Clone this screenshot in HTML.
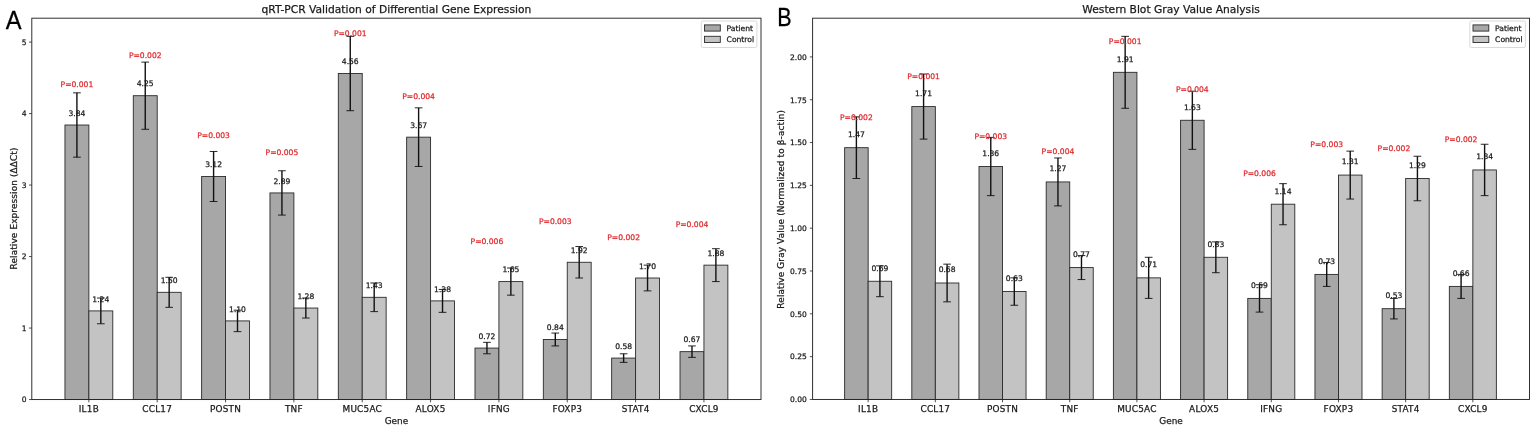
<!DOCTYPE html>
<html lang="en"><head><meta charset="utf-8"><title>Gene expression charts</title>
<style>
html,body{margin:0;padding:0;background:#fff;}
body{width:1535px;height:429px;overflow:hidden;}
svg{display:block;}
text{font-family:"DejaVu Sans","Liberation Sans",sans-serif;fill:#1a1a1a;stroke:#1a1a1a;stroke-width:0.25px;}
.t{font-size:8.9px;}
.s{font-size:7.6px;}
.yt{font-size:7.55px;}
.xt{letter-spacing:0.22px;}
.yl{letter-spacing:0.17px;}
.r{fill:#e0282c;stroke:#e0282c;}
.ti{font-size:10.7px;}
.L{font-size:24.5px;font-family:"Liberation Sans","DejaVu Sans",sans-serif;fill:#000;stroke:#000;stroke-width:0.3px;}
</style></head><body>
<svg width="1535" height="429" viewBox="0 0 1535 429">
<rect width="1535" height="429" fill="#fff"/>
<g>
<rect x="64.95" y="125.01" width="23.92" height="274.54" fill="#a7a7a7" stroke="#2a2a2a" stroke-width="0.9"/>
<rect x="88.86" y="310.9" width="23.92" height="88.65" fill="#c3c3c3" stroke="#2a2a2a" stroke-width="0.9"/>
<rect x="133.29" y="95.7" width="23.92" height="303.85" fill="#a7a7a7" stroke="#2a2a2a" stroke-width="0.9"/>
<rect x="157.21" y="292.31" width="23.92" height="107.24" fill="#c3c3c3" stroke="#2a2a2a" stroke-width="0.9"/>
<rect x="201.63" y="176.49" width="23.92" height="223.06" fill="#a7a7a7" stroke="#2a2a2a" stroke-width="0.9"/>
<rect x="225.55" y="320.91" width="23.92" height="78.64" fill="#c3c3c3" stroke="#2a2a2a" stroke-width="0.9"/>
<rect x="269.97" y="192.93" width="23.92" height="206.62" fill="#a7a7a7" stroke="#2a2a2a" stroke-width="0.9"/>
<rect x="293.89" y="308.04" width="23.92" height="91.51" fill="#c3c3c3" stroke="#2a2a2a" stroke-width="0.9"/>
<rect x="338.31" y="73.54" width="23.92" height="326.01" fill="#a7a7a7" stroke="#2a2a2a" stroke-width="0.9"/>
<rect x="362.23" y="297.31" width="23.92" height="102.24" fill="#c3c3c3" stroke="#2a2a2a" stroke-width="0.9"/>
<rect x="406.65" y="137.17" width="23.92" height="262.38" fill="#a7a7a7" stroke="#2a2a2a" stroke-width="0.9"/>
<rect x="430.57" y="300.89" width="23.92" height="98.66" fill="#c3c3c3" stroke="#2a2a2a" stroke-width="0.9"/>
<rect x="474.99" y="348.07" width="23.92" height="51.48" fill="#a7a7a7" stroke="#2a2a2a" stroke-width="0.9"/>
<rect x="498.91" y="281.58" width="23.92" height="117.97" fill="#c3c3c3" stroke="#2a2a2a" stroke-width="0.9"/>
<rect x="543.33" y="339.49" width="23.92" height="60.06" fill="#a7a7a7" stroke="#2a2a2a" stroke-width="0.9"/>
<rect x="567.25" y="262.28" width="23.92" height="137.27" fill="#c3c3c3" stroke="#2a2a2a" stroke-width="0.9"/>
<rect x="611.67" y="358.08" width="23.92" height="41.47" fill="#a7a7a7" stroke="#2a2a2a" stroke-width="0.9"/>
<rect x="635.59" y="278.01" width="23.92" height="121.54" fill="#c3c3c3" stroke="#2a2a2a" stroke-width="0.9"/>
<rect x="680.02" y="351.65" width="23.92" height="47.9" fill="#a7a7a7" stroke="#2a2a2a" stroke-width="0.9"/>
<rect x="703.94" y="265.14" width="23.92" height="134.41" fill="#c3c3c3" stroke="#2a2a2a" stroke-width="0.9"/>
<path d="M76.91 157.18V92.84" stroke="#111" stroke-width="1.4" fill="none"/>
<path d="M73.06 92.84h7.7M73.06 157.18h7.7" stroke="#111" stroke-width="0.9" fill="none"/>
<path d="M100.82 323.77V298.03" stroke="#111" stroke-width="1.4" fill="none"/>
<path d="M96.97 298.03h7.7M96.97 323.77h7.7" stroke="#111" stroke-width="0.9" fill="none"/>
<path d="M145.25 129.3V62.1" stroke="#111" stroke-width="1.4" fill="none"/>
<path d="M141.4 62.1h7.7M141.4 129.3h7.7" stroke="#111" stroke-width="0.9" fill="none"/>
<path d="M169.17 307.32V277.29" stroke="#111" stroke-width="1.4" fill="none"/>
<path d="M165.32 277.29h7.7M165.32 307.32h7.7" stroke="#111" stroke-width="0.9" fill="none"/>
<path d="M213.59 201.51V151.47" stroke="#111" stroke-width="1.4" fill="none"/>
<path d="M209.74 151.47h7.7M209.74 201.51h7.7" stroke="#111" stroke-width="0.9" fill="none"/>
<path d="M237.51 331.63V310.18" stroke="#111" stroke-width="1.4" fill="none"/>
<path d="M233.66 310.18h7.7M233.66 331.63h7.7" stroke="#111" stroke-width="0.9" fill="none"/>
<path d="M281.93 215.09V170.77" stroke="#111" stroke-width="1.4" fill="none"/>
<path d="M278.08 170.77h7.7M278.08 215.09h7.7" stroke="#111" stroke-width="0.9" fill="none"/>
<path d="M305.85 318.05V298.03" stroke="#111" stroke-width="1.4" fill="none"/>
<path d="M302 298.03h7.7M302 318.05h7.7" stroke="#111" stroke-width="0.9" fill="none"/>
<path d="M350.27 110.71V36.36" stroke="#111" stroke-width="1.4" fill="none"/>
<path d="M346.42 36.36h7.7M346.42 110.71h7.7" stroke="#111" stroke-width="0.9" fill="none"/>
<path d="M374.19 311.61V283.01" stroke="#111" stroke-width="1.4" fill="none"/>
<path d="M370.34 283.01h7.7M370.34 311.61h7.7" stroke="#111" stroke-width="0.9" fill="none"/>
<path d="M418.61 166.48V107.85" stroke="#111" stroke-width="1.4" fill="none"/>
<path d="M414.76 107.85h7.7M414.76 166.48h7.7" stroke="#111" stroke-width="0.9" fill="none"/>
<path d="M442.53 312.33V289.45" stroke="#111" stroke-width="1.4" fill="none"/>
<path d="M438.68 289.45h7.7M438.68 312.33h7.7" stroke="#111" stroke-width="0.9" fill="none"/>
<path d="M486.95 353.79V342.35" stroke="#111" stroke-width="1.4" fill="none"/>
<path d="M483.1 342.35h7.7M483.1 353.79h7.7" stroke="#111" stroke-width="0.9" fill="none"/>
<path d="M510.87 295.17V268" stroke="#111" stroke-width="1.4" fill="none"/>
<path d="M507.02 268h7.7M507.02 295.17h7.7" stroke="#111" stroke-width="0.9" fill="none"/>
<path d="M555.29 345.93V333.06" stroke="#111" stroke-width="1.4" fill="none"/>
<path d="M551.44 333.06h7.7M551.44 345.93h7.7" stroke="#111" stroke-width="0.9" fill="none"/>
<path d="M579.21 278.01V246.55" stroke="#111" stroke-width="1.4" fill="none"/>
<path d="M575.36 246.55h7.7M575.36 278.01h7.7" stroke="#111" stroke-width="0.9" fill="none"/>
<path d="M623.63 362.37V353.79" stroke="#111" stroke-width="1.4" fill="none"/>
<path d="M619.78 353.79h7.7M619.78 362.37h7.7" stroke="#111" stroke-width="0.9" fill="none"/>
<path d="M647.55 290.88V265.14" stroke="#111" stroke-width="1.4" fill="none"/>
<path d="M643.7 265.14h7.7M643.7 290.88h7.7" stroke="#111" stroke-width="0.9" fill="none"/>
<path d="M691.98 357.37V345.93" stroke="#111" stroke-width="1.4" fill="none"/>
<path d="M688.13 345.93h7.7M688.13 357.37h7.7" stroke="#111" stroke-width="0.9" fill="none"/>
<path d="M715.89 281.58V248.7" stroke="#111" stroke-width="1.4" fill="none"/>
<path d="M712.04 248.7h7.7M712.04 281.58h7.7" stroke="#111" stroke-width="0.9" fill="none"/>
<text x="76.91" y="115.77" class="s" text-anchor="middle">3.84</text>
<text x="100.82" y="301.65" class="s" text-anchor="middle">1.24</text>
<text x="76.91" y="86.97" class="s r" text-anchor="middle">P=0.001</text>
<text x="145.25" y="86.46" class="s" text-anchor="middle">4.25</text>
<text x="169.17" y="283.07" class="s" text-anchor="middle">1.50</text>
<text x="145.25" y="57.66" class="s r" text-anchor="middle">P=0.002</text>
<text x="213.59" y="167.25" class="s" text-anchor="middle">3.12</text>
<text x="237.51" y="311.66" class="s" text-anchor="middle">1.10</text>
<text x="213.59" y="138.45" class="s r" text-anchor="middle">P=0.003</text>
<text x="281.93" y="183.69" class="s" text-anchor="middle">2.89</text>
<text x="305.85" y="298.79" class="s" text-anchor="middle">1.28</text>
<text x="281.93" y="154.89" class="s r" text-anchor="middle">P=0.005</text>
<text x="350.27" y="64.29" class="s" text-anchor="middle">4.56</text>
<text x="374.19" y="288.07" class="s" text-anchor="middle">1.43</text>
<text x="350.27" y="35.5" class="s r" text-anchor="middle">P=0.001</text>
<text x="418.61" y="127.92" class="s" text-anchor="middle">3.67</text>
<text x="442.53" y="291.65" class="s" text-anchor="middle">1.38</text>
<text x="418.61" y="99.13" class="s r" text-anchor="middle">P=0.004</text>
<text x="486.95" y="338.83" class="s" text-anchor="middle">0.72</text>
<text x="510.87" y="272.34" class="s" text-anchor="middle">1.65</text>
<text x="486.95" y="243.54" class="s r" text-anchor="middle">P=0.006</text>
<text x="555.29" y="330.25" class="s" text-anchor="middle">0.84</text>
<text x="579.21" y="253.04" class="s" text-anchor="middle">1.92</text>
<text x="555.29" y="224.24" class="s r" text-anchor="middle">P=0.003</text>
<text x="623.63" y="348.84" class="s" text-anchor="middle">0.58</text>
<text x="647.55" y="268.77" class="s" text-anchor="middle">1.70</text>
<text x="623.63" y="239.97" class="s r" text-anchor="middle">P=0.002</text>
<text x="691.98" y="342.41" class="s" text-anchor="middle">0.67</text>
<text x="715.89" y="255.9" class="s" text-anchor="middle">1.88</text>
<text x="691.98" y="227.1" class="s r" text-anchor="middle">P=0.004</text>
<rect x="31.8" y="18.2" width="729.2" height="381.35" fill="none" stroke="#262626" stroke-width="0.95"/>
<path d="M88.86 399.55v2.8" stroke="#262626" stroke-width="0.8"/>
<text x="88.86" y="411.95" class="t xt" text-anchor="middle">IL1B</text>
<path d="M157.21 399.55v2.8" stroke="#262626" stroke-width="0.8"/>
<text x="157.21" y="411.95" class="t xt" text-anchor="middle">CCL17</text>
<path d="M225.55 399.55v2.8" stroke="#262626" stroke-width="0.8"/>
<text x="225.55" y="411.95" class="t xt" text-anchor="middle">POSTN</text>
<path d="M293.89 399.55v2.8" stroke="#262626" stroke-width="0.8"/>
<text x="293.89" y="411.95" class="t xt" text-anchor="middle">TNF</text>
<path d="M362.23 399.55v2.8" stroke="#262626" stroke-width="0.8"/>
<text x="362.23" y="411.95" class="t xt" text-anchor="middle">MUC5AC</text>
<path d="M430.57 399.55v2.8" stroke="#262626" stroke-width="0.8"/>
<text x="430.57" y="411.95" class="t xt" text-anchor="middle">ALOX5</text>
<path d="M498.91 399.55v2.8" stroke="#262626" stroke-width="0.8"/>
<text x="498.91" y="411.95" class="t xt" text-anchor="middle">IFNG</text>
<path d="M567.25 399.55v2.8" stroke="#262626" stroke-width="0.8"/>
<text x="567.25" y="411.95" class="t xt" text-anchor="middle">FOXP3</text>
<path d="M635.59 399.55v2.8" stroke="#262626" stroke-width="0.8"/>
<text x="635.59" y="411.95" class="t xt" text-anchor="middle">STAT4</text>
<path d="M703.94 399.55v2.8" stroke="#262626" stroke-width="0.8"/>
<text x="703.94" y="411.95" class="t xt" text-anchor="middle">CXCL9</text>
<path d="M31.8 399.55h-2.8" stroke="#262626" stroke-width="0.8"/>
<text x="26.5" y="402.4" class="yt" text-anchor="end">0</text>
<path d="M31.8 328.06h-2.8" stroke="#262626" stroke-width="0.8"/>
<text x="26.5" y="330.91" class="yt" text-anchor="end">1</text>
<path d="M31.8 256.56h-2.8" stroke="#262626" stroke-width="0.8"/>
<text x="26.5" y="259.41" class="yt" text-anchor="end">2</text>
<path d="M31.8 185.07h-2.8" stroke="#262626" stroke-width="0.8"/>
<text x="26.5" y="187.92" class="yt" text-anchor="end">3</text>
<path d="M31.8 113.57h-2.8" stroke="#262626" stroke-width="0.8"/>
<text x="26.5" y="116.42" class="yt" text-anchor="end">4</text>
<path d="M31.8 42.08h-2.8" stroke="#262626" stroke-width="0.8"/>
<text x="26.5" y="44.93" class="yt" text-anchor="end">5</text>
<text x="396.4" y="13.3" class="ti" text-anchor="middle">qRT-PCR Validation of Differential Gene Expression</text>
<text x="396.4" y="423.5" class="t" text-anchor="middle">Gene</text>
<text transform="translate(16.8 208.47) rotate(-90)" class="t" style="letter-spacing:0.14px" text-anchor="middle">Relative Expression (ΔΔCt)</text>
<text transform="translate(5.8 28.9) scale(0.94 1)" class="L" style="font-size:25.2px">A</text>
<rect x="701.3" y="21" width="55.6" height="26.5" rx="1.6" fill="#fff" fill-opacity="0.8" stroke="#d0d0d0" stroke-width="0.8"/>
<rect x="704.5" y="24.9" width="15.8" height="6.2" fill="#a7a7a7" stroke="#2a2a2a" stroke-width="0.9"/>
<rect x="704.5" y="36.3" width="15.8" height="6.2" fill="#c3c3c3" stroke="#2a2a2a" stroke-width="0.9"/>
<text x="726.6" y="30.8" class="s">Patient</text>
<text x="726.6" y="42.2" class="s">Control</text>
</g>
<g>
<rect x="844.64" y="147.68" width="23.52" height="251.77" fill="#a7a7a7" stroke="#2a2a2a" stroke-width="0.9"/>
<rect x="868.15" y="281.27" width="23.52" height="118.18" fill="#c3c3c3" stroke="#2a2a2a" stroke-width="0.9"/>
<rect x="911.82" y="106.58" width="23.52" height="292.87" fill="#a7a7a7" stroke="#2a2a2a" stroke-width="0.9"/>
<rect x="935.34" y="282.99" width="23.52" height="116.46" fill="#c3c3c3" stroke="#2a2a2a" stroke-width="0.9"/>
<rect x="979.01" y="166.52" width="23.52" height="232.93" fill="#a7a7a7" stroke="#2a2a2a" stroke-width="0.9"/>
<rect x="1002.53" y="291.55" width="23.52" height="107.9" fill="#c3c3c3" stroke="#2a2a2a" stroke-width="0.9"/>
<rect x="1046.2" y="181.94" width="23.52" height="217.51" fill="#a7a7a7" stroke="#2a2a2a" stroke-width="0.9"/>
<rect x="1069.72" y="267.57" width="23.52" height="131.88" fill="#c3c3c3" stroke="#2a2a2a" stroke-width="0.9"/>
<rect x="1113.39" y="72.32" width="23.52" height="327.13" fill="#a7a7a7" stroke="#2a2a2a" stroke-width="0.9"/>
<rect x="1136.91" y="277.85" width="23.52" height="121.6" fill="#c3c3c3" stroke="#2a2a2a" stroke-width="0.9"/>
<rect x="1180.58" y="120.28" width="23.52" height="279.17" fill="#a7a7a7" stroke="#2a2a2a" stroke-width="0.9"/>
<rect x="1204.09" y="257.29" width="23.52" height="142.16" fill="#c3c3c3" stroke="#2a2a2a" stroke-width="0.9"/>
<rect x="1247.77" y="298.4" width="23.52" height="101.05" fill="#a7a7a7" stroke="#2a2a2a" stroke-width="0.9"/>
<rect x="1271.28" y="204.2" width="23.52" height="195.25" fill="#c3c3c3" stroke="#2a2a2a" stroke-width="0.9"/>
<rect x="1314.96" y="274.42" width="23.52" height="125.03" fill="#a7a7a7" stroke="#2a2a2a" stroke-width="0.9"/>
<rect x="1338.47" y="175.08" width="23.52" height="224.37" fill="#c3c3c3" stroke="#2a2a2a" stroke-width="0.9"/>
<rect x="1382.14" y="308.68" width="23.52" height="90.77" fill="#a7a7a7" stroke="#2a2a2a" stroke-width="0.9"/>
<rect x="1405.66" y="178.51" width="23.52" height="220.94" fill="#c3c3c3" stroke="#2a2a2a" stroke-width="0.9"/>
<rect x="1449.33" y="286.41" width="23.52" height="113.04" fill="#a7a7a7" stroke="#2a2a2a" stroke-width="0.9"/>
<rect x="1472.85" y="169.95" width="23.52" height="229.5" fill="#c3c3c3" stroke="#2a2a2a" stroke-width="0.9"/>
<path d="M856.39 178.51V116.85" stroke="#111" stroke-width="1.4" fill="none"/>
<path d="M852.54 116.85h7.7M852.54 178.51h7.7" stroke="#111" stroke-width="0.9" fill="none"/>
<path d="M879.91 296.69V265.86" stroke="#111" stroke-width="1.4" fill="none"/>
<path d="M876.06 265.86h7.7M876.06 296.69h7.7" stroke="#111" stroke-width="0.9" fill="none"/>
<path d="M923.58 139.12V74.03" stroke="#111" stroke-width="1.4" fill="none"/>
<path d="M919.73 74.03h7.7M919.73 139.12h7.7" stroke="#111" stroke-width="0.9" fill="none"/>
<path d="M947.1 301.83V264.15" stroke="#111" stroke-width="1.4" fill="none"/>
<path d="M943.25 264.15h7.7M943.25 301.83h7.7" stroke="#111" stroke-width="0.9" fill="none"/>
<path d="M990.77 195.64V137.4" stroke="#111" stroke-width="1.4" fill="none"/>
<path d="M986.92 137.4h7.7M986.92 195.64h7.7" stroke="#111" stroke-width="0.9" fill="none"/>
<path d="M1014.29 305.25V277.85" stroke="#111" stroke-width="1.4" fill="none"/>
<path d="M1010.44 277.85h7.7M1010.44 305.25h7.7" stroke="#111" stroke-width="0.9" fill="none"/>
<path d="M1057.96 205.91V157.96" stroke="#111" stroke-width="1.4" fill="none"/>
<path d="M1054.11 157.96h7.7M1054.11 205.91h7.7" stroke="#111" stroke-width="0.9" fill="none"/>
<path d="M1081.48 279.56V255.58" stroke="#111" stroke-width="1.4" fill="none"/>
<path d="M1077.63 255.58h7.7M1077.63 279.56h7.7" stroke="#111" stroke-width="0.9" fill="none"/>
<path d="M1125.15 108.29V36.35" stroke="#111" stroke-width="1.4" fill="none"/>
<path d="M1121.3 36.35h7.7M1121.3 108.29h7.7" stroke="#111" stroke-width="0.9" fill="none"/>
<path d="M1148.66 298.4V257.29" stroke="#111" stroke-width="1.4" fill="none"/>
<path d="M1144.81 257.29h7.7M1144.81 298.4h7.7" stroke="#111" stroke-width="0.9" fill="none"/>
<path d="M1192.34 149.39V91.16" stroke="#111" stroke-width="1.4" fill="none"/>
<path d="M1188.49 91.16h7.7M1188.49 149.39h7.7" stroke="#111" stroke-width="0.9" fill="none"/>
<path d="M1215.85 272.71V241.88" stroke="#111" stroke-width="1.4" fill="none"/>
<path d="M1212 241.88h7.7M1212 272.71h7.7" stroke="#111" stroke-width="0.9" fill="none"/>
<path d="M1259.52 312.1V284.7" stroke="#111" stroke-width="1.4" fill="none"/>
<path d="M1255.67 284.7h7.7M1255.67 312.1h7.7" stroke="#111" stroke-width="0.9" fill="none"/>
<path d="M1283.04 224.75V183.65" stroke="#111" stroke-width="1.4" fill="none"/>
<path d="M1279.19 183.65h7.7M1279.19 224.75h7.7" stroke="#111" stroke-width="0.9" fill="none"/>
<path d="M1326.71 286.41V262.43" stroke="#111" stroke-width="1.4" fill="none"/>
<path d="M1322.86 262.43h7.7M1322.86 286.41h7.7" stroke="#111" stroke-width="0.9" fill="none"/>
<path d="M1350.23 199.06V151.11" stroke="#111" stroke-width="1.4" fill="none"/>
<path d="M1346.38 151.11h7.7M1346.38 199.06h7.7" stroke="#111" stroke-width="0.9" fill="none"/>
<path d="M1393.9 318.95V298.4" stroke="#111" stroke-width="1.4" fill="none"/>
<path d="M1390.05 298.4h7.7M1390.05 318.95h7.7" stroke="#111" stroke-width="0.9" fill="none"/>
<path d="M1417.42 200.78V156.24" stroke="#111" stroke-width="1.4" fill="none"/>
<path d="M1413.57 156.24h7.7M1413.57 200.78h7.7" stroke="#111" stroke-width="0.9" fill="none"/>
<path d="M1461.09 298.4V274.42" stroke="#111" stroke-width="1.4" fill="none"/>
<path d="M1457.24 274.42h7.7M1457.24 298.4h7.7" stroke="#111" stroke-width="0.9" fill="none"/>
<path d="M1484.61 195.64V144.26" stroke="#111" stroke-width="1.4" fill="none"/>
<path d="M1480.76 144.26h7.7M1480.76 195.64h7.7" stroke="#111" stroke-width="0.9" fill="none"/>
<text x="856.39" y="137.02" class="s" text-anchor="middle">1.47</text>
<text x="879.91" y="270.62" class="s" text-anchor="middle">0.69</text>
<text x="856.39" y="119.7" class="s r" text-anchor="middle">P=0.002</text>
<text x="923.58" y="95.92" class="s" text-anchor="middle">1.71</text>
<text x="947.1" y="272.33" class="s" text-anchor="middle">0.68</text>
<text x="923.58" y="78.59" class="s r" text-anchor="middle">P=0.001</text>
<text x="990.77" y="155.86" class="s" text-anchor="middle">1.36</text>
<text x="1014.29" y="280.89" class="s" text-anchor="middle">0.63</text>
<text x="990.77" y="138.54" class="s r" text-anchor="middle">P=0.003</text>
<text x="1057.96" y="171.28" class="s" text-anchor="middle">1.27</text>
<text x="1081.48" y="256.91" class="s" text-anchor="middle">0.77</text>
<text x="1057.96" y="153.95" class="s r" text-anchor="middle">P=0.004</text>
<text x="1125.15" y="61.66" class="s" text-anchor="middle">1.91</text>
<text x="1148.66" y="267.19" class="s" text-anchor="middle">0.71</text>
<text x="1125.15" y="44.34" class="s r" text-anchor="middle">P=0.001</text>
<text x="1192.34" y="109.62" class="s" text-anchor="middle">1.63</text>
<text x="1215.85" y="246.64" class="s" text-anchor="middle">0.83</text>
<text x="1192.34" y="92.29" class="s r" text-anchor="middle">P=0.004</text>
<text x="1259.52" y="287.74" class="s" text-anchor="middle">0.59</text>
<text x="1283.04" y="193.54" class="s" text-anchor="middle">1.14</text>
<text x="1259.52" y="176.22" class="s r" text-anchor="middle">P=0.006</text>
<text x="1326.71" y="263.76" class="s" text-anchor="middle">0.73</text>
<text x="1350.23" y="164.43" class="s" text-anchor="middle">1.31</text>
<text x="1326.71" y="147.1" class="s r" text-anchor="middle">P=0.003</text>
<text x="1393.9" y="298.02" class="s" text-anchor="middle">0.53</text>
<text x="1417.42" y="167.85" class="s" text-anchor="middle">1.29</text>
<text x="1393.9" y="150.53" class="s r" text-anchor="middle">P=0.002</text>
<text x="1461.09" y="275.75" class="s" text-anchor="middle">0.66</text>
<text x="1484.61" y="159.29" class="s" text-anchor="middle">1.34</text>
<text x="1461.09" y="141.96" class="s r" text-anchor="middle">P=0.002</text>
<rect x="812.6" y="18.2" width="716.9" height="381.25" fill="none" stroke="#262626" stroke-width="0.95"/>
<path d="M868.15 399.45v2.8" stroke="#262626" stroke-width="0.8"/>
<text x="868.15" y="411.85" class="t xt" text-anchor="middle">IL1B</text>
<path d="M935.34 399.45v2.8" stroke="#262626" stroke-width="0.8"/>
<text x="935.34" y="411.85" class="t xt" text-anchor="middle">CCL17</text>
<path d="M1002.53 399.45v2.8" stroke="#262626" stroke-width="0.8"/>
<text x="1002.53" y="411.85" class="t xt" text-anchor="middle">POSTN</text>
<path d="M1069.72 399.45v2.8" stroke="#262626" stroke-width="0.8"/>
<text x="1069.72" y="411.85" class="t xt" text-anchor="middle">TNF</text>
<path d="M1136.91 399.45v2.8" stroke="#262626" stroke-width="0.8"/>
<text x="1136.91" y="411.85" class="t xt" text-anchor="middle">MUC5AC</text>
<path d="M1204.09 399.45v2.8" stroke="#262626" stroke-width="0.8"/>
<text x="1204.09" y="411.85" class="t xt" text-anchor="middle">ALOX5</text>
<path d="M1271.28 399.45v2.8" stroke="#262626" stroke-width="0.8"/>
<text x="1271.28" y="411.85" class="t xt" text-anchor="middle">IFNG</text>
<path d="M1338.47 399.45v2.8" stroke="#262626" stroke-width="0.8"/>
<text x="1338.47" y="411.85" class="t xt" text-anchor="middle">FOXP3</text>
<path d="M1405.66 399.45v2.8" stroke="#262626" stroke-width="0.8"/>
<text x="1405.66" y="411.85" class="t xt" text-anchor="middle">STAT4</text>
<path d="M1472.85 399.45v2.8" stroke="#262626" stroke-width="0.8"/>
<text x="1472.85" y="411.85" class="t xt" text-anchor="middle">CXCL9</text>
<path d="M812.6 399.45h-2.8" stroke="#262626" stroke-width="0.8"/>
<text x="806.8" y="402.3" class="yt" text-anchor="end">0.00</text>
<path d="M812.6 356.63h-2.8" stroke="#262626" stroke-width="0.8"/>
<text x="806.8" y="359.48" class="yt" text-anchor="end">0.25</text>
<path d="M812.6 313.81h-2.8" stroke="#262626" stroke-width="0.8"/>
<text x="806.8" y="316.66" class="yt" text-anchor="end">0.50</text>
<path d="M812.6 271h-2.8" stroke="#262626" stroke-width="0.8"/>
<text x="806.8" y="273.85" class="yt" text-anchor="end">0.75</text>
<path d="M812.6 228.18h-2.8" stroke="#262626" stroke-width="0.8"/>
<text x="806.8" y="231.03" class="yt" text-anchor="end">1.00</text>
<path d="M812.6 185.36h-2.8" stroke="#262626" stroke-width="0.8"/>
<text x="806.8" y="188.21" class="yt" text-anchor="end">1.25</text>
<path d="M812.6 142.54h-2.8" stroke="#262626" stroke-width="0.8"/>
<text x="806.8" y="145.39" class="yt" text-anchor="end">1.50</text>
<path d="M812.6 99.73h-2.8" stroke="#262626" stroke-width="0.8"/>
<text x="806.8" y="102.58" class="yt" text-anchor="end">1.75</text>
<path d="M812.6 56.91h-2.8" stroke="#262626" stroke-width="0.8"/>
<text x="806.8" y="59.76" class="yt" text-anchor="end">2.00</text>
<text x="1171.05" y="13.3" class="ti" text-anchor="middle">Western Blot Gray Value Analysis</text>
<text x="1171.05" y="423.5" class="t" text-anchor="middle">Gene</text>
<text transform="translate(784.2 209.22) rotate(-90)" class="t" style="letter-spacing:0.15px" text-anchor="middle">Relative Gray Value (Normalized to β-actin)</text>
<text transform="translate(777.2 25.9) scale(0.825 1)" class="L" style="font-size:26.1px">B</text>
<rect x="1469.8" y="21" width="55.6" height="26.5" rx="1.6" fill="#fff" fill-opacity="0.8" stroke="#d0d0d0" stroke-width="0.8"/>
<rect x="1473" y="24.9" width="15.8" height="6.2" fill="#a7a7a7" stroke="#2a2a2a" stroke-width="0.9"/>
<rect x="1473" y="36.3" width="15.8" height="6.2" fill="#c3c3c3" stroke="#2a2a2a" stroke-width="0.9"/>
<text x="1495.1" y="30.8" class="s">Patient</text>
<text x="1495.1" y="42.2" class="s">Control</text>
</g>
</svg>
</body></html>
